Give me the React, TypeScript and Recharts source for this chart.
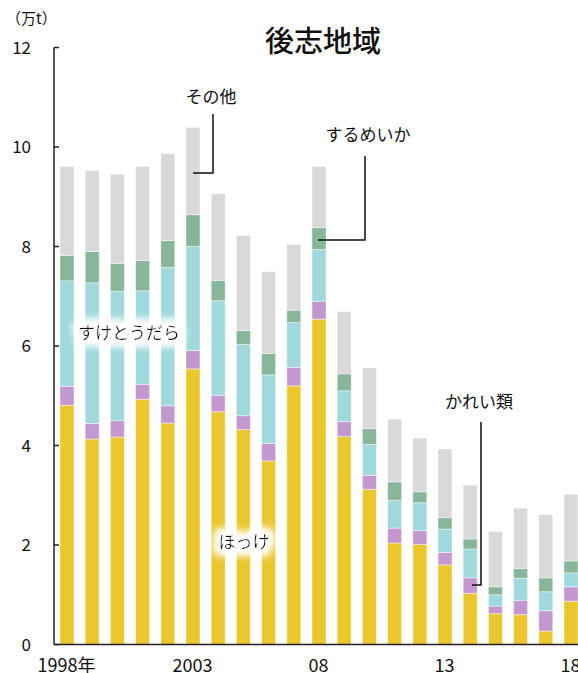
import React from 'react';
import { BarChart, Bar, XAxis, YAxis } from 'recharts';

// 後志地域の魚種別漁獲量（万t）
const years = [
  '1998', '1999', '2000', '2001', '2002', '2003', '2004', '2005', '2006', '2007', '2008',
  '2009', '2010', '2011', '2012', '2013', '2014', '2015', '2016', '2017', '2018',
];
const yearLabels: Record<string, string> = {
  '1998': '1998年', '2003': '2003', '2008': '08', '2013': '13', '2018': '18',
};
const hokke = [4.81, 4.13, 4.17, 4.93, 4.45, 5.54, 4.68, 4.32, 3.69, 5.2, 6.54, 4.18, 3.12, 2.04, 2.01, 1.6, 1.03, 0.62, 0.6, 0.27, 0.87];
const karei = [0.38, 0.31, 0.33, 0.3, 0.35, 0.37, 0.33, 0.28, 0.35, 0.37, 0.36, 0.3, 0.28, 0.3, 0.28, 0.25, 0.31, 0.15, 0.29, 0.41, 0.29];
const suketou = [2.12, 2.83, 2.6, 1.88, 2.78, 2.09, 1.9, 1.43, 1.38, 0.9, 1.04, 0.62, 0.62, 0.56, 0.56, 0.47, 0.58, 0.23, 0.44, 0.38, 0.28];
const surume = [0.51, 0.63, 0.56, 0.61, 0.54, 0.64, 0.41, 0.28, 0.43, 0.25, 0.44, 0.34, 0.32, 0.37, 0.22, 0.23, 0.2, 0.16, 0.2, 0.28, 0.24];
const sonota = [1.79, 1.63, 1.79, 1.89, 1.75, 1.75, 1.74, 1.91, 1.64, 1.32, 1.23, 1.25, 1.22, 1.26, 1.08, 1.38, 1.08, 1.11, 1.21, 1.27, 1.34];
const yTicks = [0, 2, 4, 6, 8, 10, 12];

const data = years.map((y, i) => ({
  year: y,
  hokke: hokke[i],
  karei: karei[i],
  suketou: suketou[i],
  surume: surume[i],
  sonota: sonota[i],
}));

const FONT = '"Noto Sans CJK JP", "Noto Sans", sans-serif';
const AXIS_X = 54;

const YTick = (props: any) => {
  const { y, payload } = props;
  return (
    <g>
      <line x1={AXIS_X} x2={AXIS_X + 5} y1={y} y2={y} stroke="#222" strokeWidth={1.5} />
      <text x={31} y={y} dy={6} textAnchor="end" fontSize={17} fill="#111" fontFamily={FONT}>
        {payload.value}
      </text>
    </g>
  );
};

const XTick = (props: any) => {
  const { x, y, payload } = props;
  const label = yearLabels[payload.value];
  if (!label) return null;
  return (
    <text x={x} y={y + 27} textAnchor="middle" fontSize={18} fill="#111" fontFamily={FONT}>
      {label}
    </text>
  );
};

const barProps = {
  stackId: 'a',
  isAnimationActive: false,
  stroke: 'rgba(255,255,255,0.55)',
  strokeWidth: 0.8,
};

export default function App() {
  return (
    <div style={{ position: 'absolute', left: 0, top: 0, width: 578, height: 673, overflow: 'hidden', background: '#fff' }}>
      <BarChart
        width={600}
        height={700}
        data={data}
        margin={{ top: 47.5, right: 16.8, left: 0, bottom: 25.5 }}
        barSize={14}
      >
        <XAxis
          dataKey="year"
          interval={0}
          height={30}
          tickSize={0}
          tickMargin={0}
          tick={<XTick />}
          axisLine={{ stroke: '#222', strokeWidth: 1.5 }}
          tickLine={false}
        />
        <YAxis
          width={54}
          domain={[0, 12]}
          ticks={yTicks}
          tickSize={0}
          tickMargin={0}
          tick={<YTick />}
          axisLine={{ stroke: '#222', strokeWidth: 1.5 }}
          tickLine={false}
        />
        <Bar dataKey="hokke" fill="#EBC72E" {...barProps} />
        <Bar dataKey="karei" fill="#C398CF" {...barProps} />
        <Bar dataKey="suketou" fill="#9FD9DC" {...barProps} />
        <Bar dataKey="surume" fill="#87B69A" {...barProps} />
        <Bar dataKey="sonota" fill="#D9D9D9" {...barProps} />
      </BarChart>

      <svg width={578} height={673} style={{ position: 'absolute', left: 0, top: 0, pointerEvents: 'none' }}>
        <defs>
          <filter id="halo" x="-30%" y="-80%" width="160%" height="260%">
            <feMorphology in="SourceAlpha" operator="dilate" radius="5" result="grown" />
            <feGaussianBlur in="grown" stdDeviation="4" result="soft" />
            <feFlood floodColor="#fff" />
            <feComposite in2="soft" operator="in" result="white" />
            <feMerge>
              <feMergeNode in="white" />
              <feMergeNode in="white" />
              <feMergeNode in="SourceGraphic" />
            </feMerge>
          </filter>
        </defs>
        <g fontFamily={FONT} fill="#111">
          <text x={323} y={52} textAnchor="middle" fontSize={29} fontWeight={500}>後志地域</text>
          <text x={6} y={24} fontSize={15}>（万t）</text>

          <text x={211} y={103} textAnchor="middle" fontSize={17}>その他</text>
          <polyline points="213,114 213,173 193,173" fill="none" stroke="#111" strokeWidth={1.5} />

          <text x={368} y={141} textAnchor="middle" fontSize={17}>するめいか</text>
          <polyline points="365,156 365,240 318,240" fill="none" stroke="#111" strokeWidth={1.5} />

          <text x={479} y={408} textAnchor="middle" fontSize={17}>かれい類</text>
          <polyline points="481,422 481,585 472,585" fill="none" stroke="#111" strokeWidth={1.5} />

          <text x={129} y={339} textAnchor="middle" fontSize={17} filter="url(#halo)">すけとうだら</text>
          <text x={244} y={548} textAnchor="middle" fontSize={17} filter="url(#halo)">ほっけ</text>
        </g>
      </svg>
    </div>
  );
}
